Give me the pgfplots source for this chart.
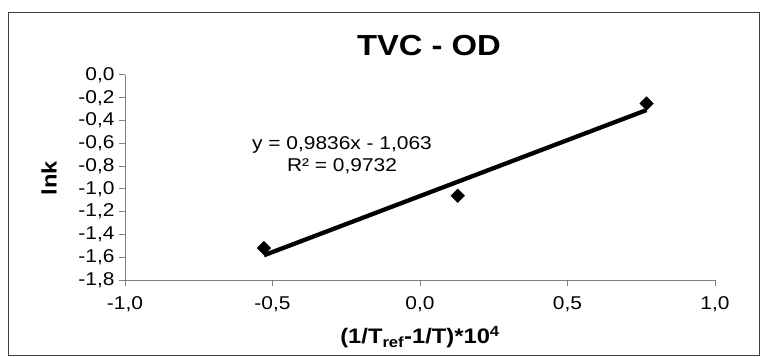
\documentclass[border=0pt]{standalone}
\usepackage{pgfplots}
\pgfplotsset{compat=1.18}
\usepackage{fontspec}
\setmainfont[FakeStretch=1.13]{Liberation Sans}
\definecolor{axgray}{RGB}{128,128,128}
\begin{document}
\begin{tikzpicture}[x=1pt,y=1pt]
\path (-125,-76) rectangle (642,280);
\draw[line width=0.8pt, black!75] (-117,-75.5) rectangle (634.5,268);
\begin{axis}[
  at={(0,0)}, anchor=south west,
  scale only axis, width=590pt, height=205pt,
  xmin=-1, xmax=1, ymin=-1.8, ymax=0,
  xtick={-1,-0.5,0,0.5,1},
  ytick={-1.8,-1.6,-1.4,-1.2,-1.0,-0.8,-0.6,-0.4,-0.2,0},
  axis lines*=left,
  axis line style={axgray, line width=1pt},
  tick align=outside,
  major tick length=6pt,
  tick style={axgray, line width=1pt},
  /pgf/number format/.cd, use comma, fixed, fixed zerofill, precision=1, assume math mode=true,
  /pgfplots/.cd,
  ticklabel style={font=\fontsize{18.5}{20}\selectfont},
  xticklabel style={yshift=-7pt},
  yticklabel style={xshift=-1pt},
  clip=false,
]
\addplot[only marks, mark=square*, mark size=4.8pt, mark options={rotate=45, fill=black, draw=black}]
  coordinates {(-0.529,-1.52) (0.128,-1.06) (0.768,-0.25)};
\addplot[line width=4.3pt, black] coordinates {(-0.529,-1.583) (0.768,-0.308)};
\end{axis}
\node[font=\bfseries\fontsize{29}{31}\selectfont] at (304,234) {TVC - OD};
\node[font=\fontsize{18.5}{22}\selectfont, align=center] at (217,125) {y = 0,9836x - 1,063\\R² = 0,9732};
\node[font=\bfseries\fontsize{21}{24}\selectfont, rotate=90] at (-76,102) {lnk};
\node[font=\bfseries\fontsize{21}{24}\selectfont] at (295,-57) {(1/T\textsubscript{ref}-1/T)*10\textsuperscript{4}};
\end{tikzpicture}
\end{document}
